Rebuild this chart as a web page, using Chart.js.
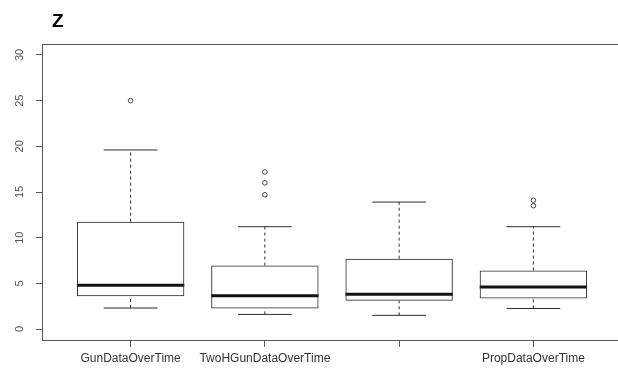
<!DOCTYPE html>
<html>
<head>
<meta charset="utf-8">
<script src="https://cdn.jsdelivr.net/npm/chart.js@4.4.1/dist/chart.umd.min.js"></script>
<style>
  html, body { margin: 0; padding: 0; background: #fff; overflow: hidden; width: 618px; height: 373px; }
  #wrap { position: relative; width: 630px; height: 373px; }
</style>
</head>
<body>
<div id="wrap"><canvas id="c" width="630" height="373"></canvas></div>
<script>
// ---- data ----
const categories  = ['GunDataOverTime', 'TwoHGunDataOverTime', '', 'PropDataOverTime'];
const whiskerLow  = [2.3, 1.6, 1.5, 2.25];
const q1          = [3.6, 2.26, 3.1, 3.35];
const median      = [4.8, 3.63, 3.8, 4.6];
const q3          = [11.75, 6.95, 7.7, 6.4];
const whiskerHigh = [19.6, 11.2, 13.9, 11.2];
const outliers    = [[25.0], [17.2, 16.0, 14.7], [], [14.1, 13.5]];
const yTicks      = [0, 5, 10, 15, 20, 25, 30];
const chartTitle  = 'Z';

const INK = '#2b2b2b';
const AXIS = '#555';
const BOX_HALF = 0.4, STAPLE_HALF = 0.2;

const datasets = [];
// boxes (floating bars)
datasets.push({
  type: 'bar',
  data: categories.map((c, i) => ({ x: i + 1, y: [q1[i], q3[i]] })),
  backgroundColor: 'rgba(0,0,0,0)',
  borderColor: INK,
  borderWidth: 1,
  borderSkipped: false,
  categoryPercentage: 0.8,
  barPercentage: 1.0
});
const lineDs = (pts, extra) => Object.assign({
  type: 'line', data: pts, borderColor: INK, borderWidth: 1,
  pointRadius: 0, fill: false, tension: 0
}, extra);
categories.forEach((c, i) => {
  const x = i + 1;
  // medians
  datasets.push(lineDs([{ x: x - BOX_HALF, y: median[i] }, { x: x + BOX_HALF, y: median[i] }], { borderWidth: 3, borderColor: '#111' }));
  // whiskers (dashed)
  datasets.push(lineDs([{ x, y: q3[i] }, { x, y: whiskerHigh[i] }], { borderDash: [3, 3] }));
  datasets.push(lineDs([{ x, y: whiskerLow[i] }, { x, y: q1[i] }], { borderDash: [3, 3] }));
  // staples
  datasets.push(lineDs([{ x: x - STAPLE_HALF, y: whiskerHigh[i] }, { x: x + STAPLE_HALF, y: whiskerHigh[i] }]));
  datasets.push(lineDs([{ x: x - STAPLE_HALF, y: whiskerLow[i] }, { x: x + STAPLE_HALF, y: whiskerLow[i] }]));
});
// outliers
datasets.push({
  type: 'scatter',
  data: outliers.flatMap((arr, i) => arr.map(v => ({ x: i + 1, y: v }))),
  pointStyle: 'circle', pointRadius: 2.3, borderWidth: 1,
  borderColor: '#444', backgroundColor: 'rgba(0,0,0,0)'
});

const frame = {
  id: 'frame',
  afterDraw(chart) {
    const { ctx, chartArea: a } = chart;
    ctx.save();
    ctx.strokeStyle = AXIS; ctx.lineWidth = 1;
    ctx.strokeRect(Math.round(a.left) + 0.5, Math.round(a.top) + 0.5, Math.round(a.right - a.left), Math.round(a.bottom - a.top));
    // y tick labels, rotated like R
    const ys = chart.scales.y;
    ctx.fillStyle = '#555';
    ctx.font = '11px "Liberation Sans", Arial, sans-serif';
    ctx.textAlign = 'center'; ctx.textBaseline = 'middle';
    yTicks.forEach(v => {
      ctx.save();
      ctx.translate(20, ys.getPixelForValue(v));
      ctx.rotate(-Math.PI / 2);
      ctx.fillText(String(v), 0, 0);
      ctx.restore();
    });
    // title
    ctx.fillStyle = '#000';
    ctx.font = 'bold 19px "Liberation Sans", Arial, sans-serif';
    ctx.textAlign = 'left'; ctx.textBaseline = 'alphabetic';
    ctx.fillText(chartTitle, 52, 27);
    ctx.restore();
  }
};

new Chart(document.getElementById('c'), {
  type: 'bar',
  data: { datasets },
  options: {
    responsive: false,
    animation: false,
    events: [],
    layout: { padding: { top: 44, left: 0, right: 8, bottom: 0 } },
    plugins: { legend: { display: false }, tooltip: { enabled: false }, title: { display: false } },
    scales: {
      x: {
        type: 'linear', min: 0.34, max: 4.66, offset: false,
        afterBuildTicks: s => { s.ticks = categories.map((c, i) => ({ value: i + 1 })); },
        afterFit: s => { s.height = 33; },
        ticks: {
          autoSkip: false, maxRotation: 0, minRotation: 0, padding: 4,
          color: '#333', font: { family: '"Liberation Sans", Arial, sans-serif', size: 12 },
          callback: v => categories[Math.round(v) - 1]
        },
        grid: { offset: false, drawOnChartArea: false, drawTicks: true, tickLength: 7, color: AXIS },
        border: { display: true, color: AXIS }
      },
      y: {
        type: 'linear', min: -1.2, max: 31.2,
        afterBuildTicks: s => { s.ticks = yTicks.map(v => ({ value: v })); },
        afterFit: s => { s.width = 42; },
        ticks: { display: false },
        grid: { offset: false, drawOnChartArea: false, drawTicks: true, tickLength: 6, color: AXIS },
        border: { display: true, color: AXIS }
      }
    }
  },
  plugins: [frame]
});
</script>
</body>
</html>
